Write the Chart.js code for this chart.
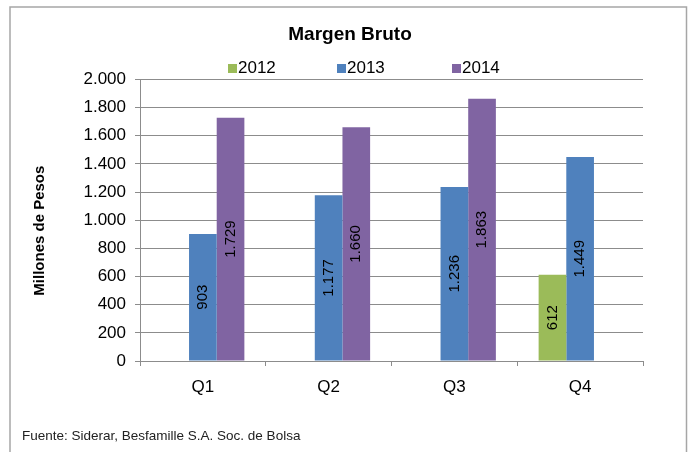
<!DOCTYPE html>
<html>
<head>
<meta charset="utf-8">
<script src="https://cdn.jsdelivr.net/npm/chart.js@4"></script>
<style>
  html, body { margin: 0; padding: 0; background: #fff; }
  #wrap { width: 700px; height: 452px; position: relative; }
</style>
</head>
<body>
<div id="wrap"><canvas id="c" width="700" height="452"></canvas></div>
<script>
const categories = ['Q1', 'Q2', 'Q3', 'Q4'];
const seriesNames = ['2012', '2013', '2014'];
const values2012 = [null, null, null, 612];
const values2013 = [903, 1177, 1236, 1449];
const values2014 = [1729, 1660, 1863, null];
const yMin = 0, yMax = 2000, yStep = 200;
const titleText = 'Margen Bruto';
const yTitleText = 'Millones de Pesos';
const footerText = 'Fuente: Siderar, Besfamille S.A. Soc. de Bolsa';

const colors = ['#9BBB59', '#4F81BD', '#8064A2'];
const FONT = "'Liberation Sans', Arial, sans-serif";

function fmt(v) {
  return String(v).replace(/\B(?=(\d{3})+(?!\d))/g, '.');
}

const seriesValues = [values2012, values2013, values2014];

const decorPlugin = {
  id: 'decor',
  beforeDraw(chart) {
    const ctx = chart.ctx;
    ctx.save();
    ctx.fillStyle = '#fff';
    ctx.fillRect(0, 0, chart.width, chart.height);
    ctx.restore();
  },
  afterDraw(chart) {
    const ctx = chart.ctx;
    ctx.save();
    // outer frame
    ctx.strokeStyle = '#a6a6a6';
    ctx.lineWidth = 1.5;
    ctx.strokeRect(10, 7, 676.5, 460);
    // legend
    ctx.font = '17px ' + FONT;
    ctx.textBaseline = 'middle';
    ctx.textAlign = 'left';
    const lx = [228, 337, 452];
    chart.data.datasets.forEach((ds, i) => {
      const x = lx[i];
      ctx.fillStyle = ds.backgroundColor;
      ctx.fillRect(x, 64, 9, 9);
      ctx.fillStyle = '#000';
      ctx.fillText(ds.label, x + 10, 68.5);
    });
    // footer
    ctx.font = '13.5px ' + FONT;
    ctx.fillStyle = '#222';
    ctx.textBaseline = 'alphabetic';
    ctx.fillText(footerText, 22, 440);
    ctx.restore();
  },
  afterDatasetsDraw(chart) {
    const ctx = chart.ctx;
    ctx.save();
    ctx.font = '15px ' + FONT;
    ctx.fillStyle = '#000';
    ctx.textAlign = 'center';
    ctx.textBaseline = 'middle';
    chart.data.datasets.forEach((ds, di) => {
      const meta = chart.getDatasetMeta(di);
      meta.data.forEach((el, i) => {
        const v = ds.data[i];
        if (v === null || v === undefined) return;
        const cy = (el.y + el.base) / 2;
        ctx.save();
        ctx.translate(el.x, cy);
        ctx.rotate(-Math.PI / 2);
        ctx.fillText(fmt(v), 0, 0);
        ctx.restore();
      });
    });
    ctx.restore();
  }
};

new Chart(document.getElementById('c'), {
  type: 'bar',
  data: {
    labels: categories,
    datasets: seriesNames.map((name, i) => ({
      label: name,
      data: seriesValues[i],
      backgroundColor: colors[i],
      borderWidth: 0,
      categoryPercentage: 0.66,
      barPercentage: 1.0
    }))
  },
  options: {
    responsive: false,
    animation: false,
    devicePixelRatio: 1,
    layout: { padding: { left: 0, right: 0, top: 0, bottom: 0 } },
    plugins: {
      legend: { display: false },
      tooltip: { enabled: false },
      title: {
        display: true,
        text: titleText,
        color: '#000',
        font: { family: FONT, size: 19, weight: 'bold', lineHeight: 1.2 },
        padding: { top: 23, bottom: 33.7 }
      }
    },
    scales: {
      x: {
        offset: true,
        afterFit(scale) { scale.height = 91; },
        grid: {
          display: true,
          offset: true,
          drawOnChartArea: false,
          drawTicks: true,
          tickLength: 5,
          color: '#8c8c8c'
        },
        border: { display: true, color: '#8c8c8c', width: 1 },
        ticks: {
          color: '#000',
          font: { family: FONT, size: 17 },
          padding: 11
        }
      },
      y: {
        min: yMin,
        max: yMax,
        afterFit(scale) { scale.width = 140; },
        title: {
          display: true,
          text: yTitleText + '     ',
          color: '#000',
          font: { family: FONT, size: 15, weight: 'bold', lineHeight: 1.2 },
          padding: { top: 31, bottom: 0 }
        },
        grid: {
          color: '#8c8c8c',
          tickLength: 5,
          drawTicks: true
        },
        border: { display: true, color: '#8c8c8c', width: 1 },
        ticks: {
          stepSize: yStep,
          color: '#000',
          font: { family: FONT, size: 17 },
          padding: 9,
          callback: (v) => fmt(v)
        }
      },
      yRight: {
        type: 'linear',
        position: 'right',
        display: true,
        afterFit(scale) { scale.width = 57; },
        grid: { drawOnChartArea: false, drawTicks: false, display: false },
        border: { display: false },
        ticks: { display: false }
      }
    }
  },
  plugins: [decorPlugin]
});
</script>
</body>
</html>
